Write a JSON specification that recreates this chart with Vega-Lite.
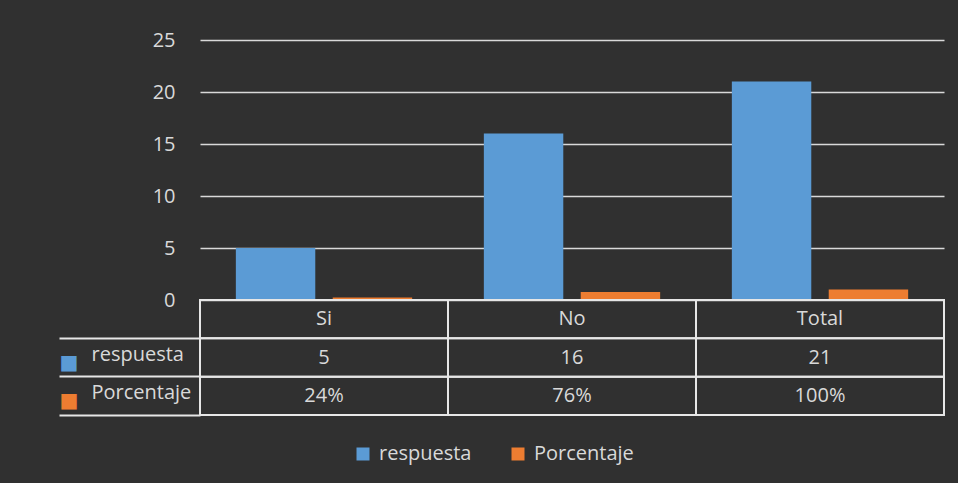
{
  "$schema": "https://vega.github.io/schema/vega-lite/v6.json",
  "background": "#303030",
  "padding": {"left": 58, "top": 30, "right": 13, "bottom": 20},
  "bounds": "flush",
  "spacing": 0,
  "config": {
    "font": "Open Sans",
    "view": {"stroke": null}
  },
  "datasets": {
    "barras": [
      {"categoria": "Si", "serie": "respuesta", "valor": 5},
      {"categoria": "Si", "serie": "Porcentaje", "valor": 0.24},
      {"categoria": "No", "serie": "respuesta", "valor": 16},
      {"categoria": "No", "serie": "Porcentaje", "valor": 0.76},
      {"categoria": "Total", "serie": "respuesta", "valor": 21},
      {"categoria": "Total", "serie": "Porcentaje", "valor": 1}
    ],
    "tabla": [
      {"categoria": "Si", "fila": "encabezado", "texto": "Si"},
      {"categoria": "No", "fila": "encabezado", "texto": "No"},
      {"categoria": "Total", "fila": "encabezado", "texto": "Total"},
      {"categoria": "Si", "fila": "respuesta", "texto": "5"},
      {"categoria": "No", "fila": "respuesta", "texto": "16"},
      {"categoria": "Total", "fila": "respuesta", "texto": "21"},
      {"categoria": "Si", "fila": "Porcentaje", "texto": "24%"},
      {"categoria": "No", "fila": "Porcentaje", "texto": "76%"},
      {"categoria": "Total", "fila": "Porcentaje", "texto": "100%"}
    ]
  },
  "vconcat": [
    {
      "width": 744,
      "height": 260,
      "data": {"name": "barras"},
      "mark": {"type": "bar"},
      "encoding": {
        "x": {
          "field": "categoria", "type": "nominal", "sort": ["Si", "No", "Total"],
          "scale": {"paddingInner": 0, "paddingOuter": 0},
          "axis": null
        },
        "xOffset": {
          "field": "serie", "type": "nominal", "sort": ["respuesta", "Porcentaje"],
          "scale": {"paddingInner": 0.18, "paddingOuter": 0.37}
        },
        "y": {
          "field": "valor", "type": "quantitative",
          "scale": {"domain": [0, 25], "nice": false},
          "axis": {
            "values": [0, 5, 10, 15, 20, 25], "title": null, "domain": false, "ticks": false,
            "labelPadding": 25, "grid": true, "gridColor": "#d9d9d9", "gridWidth": 1.5,
            "labelColor": "#d9d9d9", "labelFontSize": 20
          }
        },
        "color": {
          "field": "serie", "type": "nominal",
          "scale": {"domain": ["respuesta", "Porcentaje"], "range": ["#5b9bd5", "#ed7d31"]},
          "legend": {
            "orient": "none", "legendX": 153, "legendY": 404,
            "direction": "horizontal", "title": null,
            "symbolType": "square", "symbolSize": 169, "symbolStrokeWidth": 0,
            "labelColor": "#d9d9d9", "labelFontSize": 20, "labelOffset": 6,
            "columnPadding": 36
          }
        }
      }
    },
    {
      "width": 744,
      "height": 115,
      "data": {"name": "tabla"},
      "resolve": {"axis": {"y": "independent"}},
      "layer": [
        {
          "mark": {"type": "rect", "filled": false, "stroke": "#e6e6e6", "strokeWidth": 2},
          "encoding": {
            "x": {
              "field": "categoria", "type": "nominal", "sort": ["Si", "No", "Total"],
              "scale": {"paddingInner": 0, "paddingOuter": 0}, "axis": null
            },
            "y": {
              "field": "fila", "type": "nominal",
              "sort": ["encabezado", "respuesta", "Porcentaje"],
              "scale": {"domain": ["encabezado", "respuesta", "Porcentaje"], "paddingInner": 0, "paddingOuter": 0},
              "axis": {
                "orient": "left", "title": null, "bandPosition": 1, "domain": false,
                "ticks": true, "tickSize": 141, "tickColor": "#e6e6e6", "tickWidth": 2,
                "labelAlign": "left", "labelPadding": -32, "labelOffset": -3,
                "labelBaseline": "middle",
                "labelExpr": "datum.value == 'encabezado' ? '' : datum.value",
                "labelColor": "#d9d9d9", "labelFontSize": 20
              }
            }
          }
        },
        {
          "mark": {"type": "text", "color": "#d9d9d9", "fontSize": 20},
          "encoding": {
            "x": {
              "field": "categoria", "type": "nominal", "sort": ["Si", "No", "Total"], "axis": null
            },
            "y": {
              "field": "fila", "type": "nominal",
              "sort": ["encabezado", "respuesta", "Porcentaje"],
              "axis": {
                "orient": "right", "title": null, "domain": false, "ticks": false,
                "labelPadding": -885, "labelAlign": "left", "labelOffset": 5,
                "labelFont": "DejaVu Sans", "labelFontSize": 20,
                "labelExpr": "datum.value == 'encabezado' ? '' : '■'",
                "labelColor": {"condition": {"test": "datum.value == 'respuesta'", "value": "#5b9bd5"}, "value": "#ed7d31"}
              }
            },
            "text": {"field": "texto", "type": "nominal"}
          }
        }
      ]
    }
  ]
}
